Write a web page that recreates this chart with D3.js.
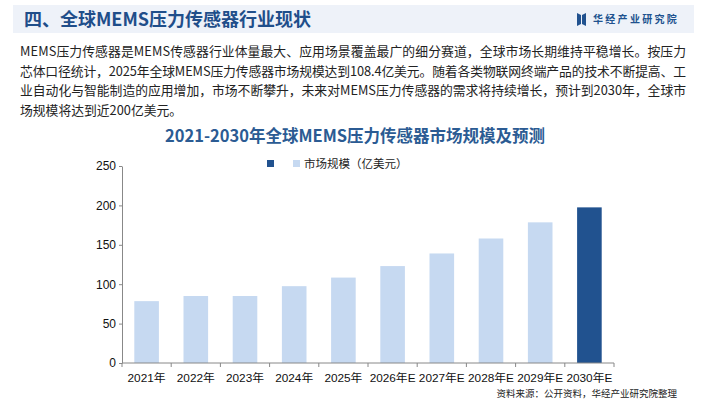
<!DOCTYPE html>
<html>
<head>
<meta charset="utf-8">
<script src="https://cdn.jsdelivr.net/npm/d3@7"></script>
<style>
  body { margin: 0; background: #fff; }
  svg { display: block; font-family: "Noto Sans CJK SC", "Noto Sans", sans-serif; }
</style>
</head>
<body>
<svg id="chart" width="705" height="400"></svg>
<script>
// chart data
const years = ["2021年", "2022年", "2023年", "2024年", "2025年", "2026年E", "2027年E", "2028年E", "2029年E", "2030年E"];
const marketSize = [78.5, 85, 85, 97.5, 108.4, 123, 139, 158, 178.5, 197.5];
const yTicks = [0, 50, 100, 150, 200, 250];

const introLines = [
  "MEMS压力传感器是MEMS传感器行业体量最大、应用场景覆盖最广的细分赛道，全球市场长期维持平稳增长。按压力",
  "芯体口径统计，2025年全球MEMS压力传感器市场规模达到108.4亿美元。随着各类物联网终端产品的技术不断提高、工",
  "业自动化与智能制造的应用增加，市场不断攀升，未来对MEMS压力传感器的需求将持续增长，预计到2030年，全球市",
  "场规模将达到近200亿美元。"
];

const svg = d3.select("#chart");
const darkBlue = "#21528f";
const lightBlue = "#c6d9f1";

// header band
svg.append("rect")
  .attr("x", 13).attr("y", 5).attr("width", 681).attr("height", 28)
  .attr("fill", "#eef2f9");
svg.append("text")
  .attr("x", 24).attr("y", 26)
  .attr("font-size", 18).attr("font-weight", "bold")
  .attr("fill", "#1f4e8a")
  .text("四、全球MEMS压力传感器行业现状");

// logo on the right
const logo = svg.append("g").attr("transform", "translate(577,13)");
logo.append("path").attr("d", "M0,0 L4,2 L4,11 L0,13 Z").attr("fill", darkBlue);
logo.append("path").attr("d", "M5,2 L9,0 L9,13 L5,11 Z").attr("fill", darkBlue);
svg.append("text")
  .attr("x", 593).attr("y", 23)
  .attr("font-size", 10).attr("font-weight", "bold")
  .attr("letter-spacing", 2.3)
  .attr("fill", darkBlue)
  .text("华经产业研究院");

// intro paragraph
svg.append("g").selectAll("text")
  .data(introLines)
  .join("text")
  .attr("x", 20)
  .attr("y", (d, i) => 56 + i * 19.6)
  .attr("font-size", 12.8)
  .attr("fill", "#222")
  .attr("textLength", (d, i) => i < 3 ? 666 : null)
  .attr("lengthAdjust", "spacing")
  .text(d => d);

// chart title
svg.append("text")
  .attr("x", 355).attr("y", 142)
  .attr("text-anchor", "middle")
  .attr("font-size", 16.5).attr("font-weight", "bold")
  .attr("fill", "#2b5b93")
  .text("2021-2030年全球MEMS压力传感器市场规模及预测");

// legend
svg.append("rect").attr("x", 267).attr("y", 160).attr("width", 7).attr("height", 7).attr("fill", darkBlue);
svg.append("rect").attr("x", 293).attr("y", 160).attr("width", 7).attr("height", 7).attr("fill", lightBlue);
svg.append("text")
  .attr("x", 304).attr("y", 168)
  .attr("font-size", 11.5).attr("fill", "#222")
  .text("市场规模（亿美元）");

// scales
const margin = { left: 122, right: 614, top: 166, bottom: 363 };
const x = d3.scaleBand().domain(years).range([margin.left, margin.right]).paddingInner(0.5).paddingOuter(0.25);
const y = d3.scaleLinear().domain([0, 250]).range([margin.bottom, margin.top]);

// bars
svg.append("g").selectAll("rect")
  .data(years)
  .join("rect")
  .attr("x", d => x(d))
  .attr("y", (d, i) => y(marketSize[i]))
  .attr("width", x.bandwidth())
  .attr("height", (d, i) => y(0) - y(marketSize[i]))
  .attr("fill", (d, i) => i === years.length - 1 ? darkBlue : lightBlue);

// y axis
const yAxis = svg.append("g")
  .attr("transform", `translate(${margin.left},0)`)
  .call(d3.axisLeft(y).tickValues(yTicks).tickSize(3).tickSizeOuter(0));
yAxis.selectAll("path, line").attr("stroke", "#888");
yAxis.selectAll("text")
  .attr("font-family", "'Liberation Sans', Arial, sans-serif")
  .attr("font-size", 12).attr("fill", "#111").attr("x", -6);

// x axis: ticks at category boundaries
const step = x.step();
const xAxis = svg.append("g").attr("transform", `translate(0,${margin.bottom})`);
xAxis.append("line")
  .attr("x1", margin.left).attr("x2", margin.right)
  .attr("stroke", "#888");
xAxis.selectAll("line.tick")
  .data(d3.range(years.length + 1))
  .join("line")
  .attr("class", "tick")
  .attr("x1", i => margin.left + i * step).attr("x2", i => margin.left + i * step)
  .attr("y1", 0).attr("y2", 4)
  .attr("stroke", "#888");
xAxis.selectAll("text")
  .data(years)
  .join("text")
  .attr("x", d => x(d) + x.bandwidth() / 2)
  .attr("y", 19)
  .attr("text-anchor", "middle")
  .attr("font-size", 11.8).attr("fill", "#111")
  .attr("font-family", "'Liberation Sans', 'Noto Sans CJK SC', sans-serif")
  .text(d => d);

// source note
svg.append("text")
  .attr("x", 677).attr("y", 397)
  .attr("text-anchor", "end")
  .attr("font-size", 9.5).attr("fill", "#222")
  .text("资料来源：公开资料，华经产业研究院整理");
</script>
</body>
</html>
